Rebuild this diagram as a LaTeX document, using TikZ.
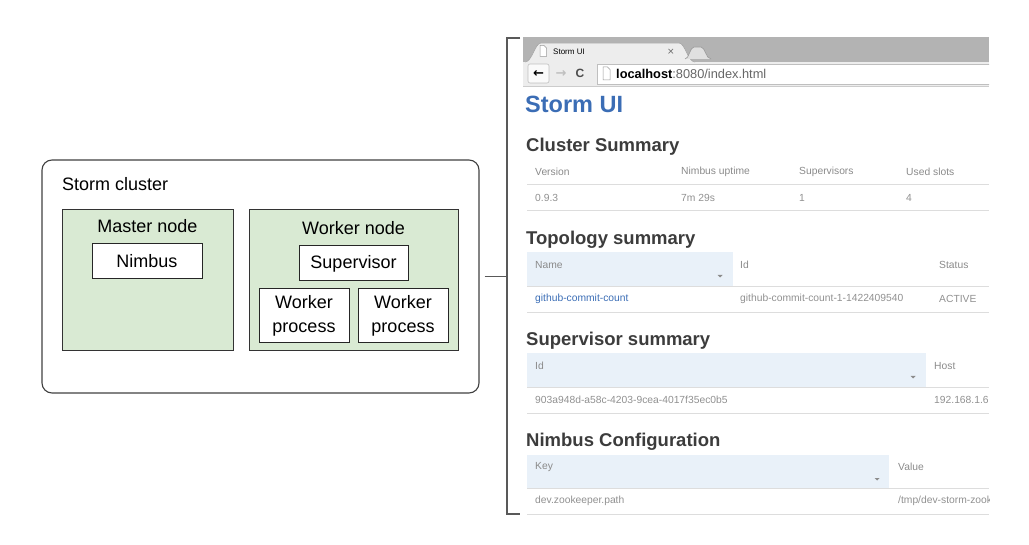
\documentclass[tikz,border=0pt]{standalone}
\usepackage{fontspec}
\setmainfont{Liberation Sans}
\newfontfamily\symfont{DejaVu Sans}

\definecolor{nodegreen}{HTML}{D9EAD3}
\definecolor{chromegray}{HTML}{B3B3B3}
\definecolor{barlight}{HTML}{EDEDED}
\definecolor{stormblue}{HTML}{3B6DB5}
\definecolor{titlegray}{HTML}{3C3C3C}
\definecolor{headgray}{HTML}{8A8A8A}
\definecolor{cellgray}{HTML}{909090}
\definecolor{headblue}{HTML}{E9F1F9}
\definecolor{linegray}{HTML}{DDDDDD}

\tikzset{
  diagtext/.style={inner sep=0pt, font=\fontsize{18}{23.5}\selectfont},
  clusterbox/.style={draw=black!75, line width=1.1pt, rounded corners=10pt, inner sep=0pt},
  greenbox/.style={draw=black!80, fill=nodegreen, line width=1pt, inner sep=0pt},
  whitebox/.style={draw=black!85, fill=white, line width=1pt, inner sep=0pt,
    align=center, font=\fontsize{18}{23.5}\selectfont},
  bracket/.style={draw=black!65, line width=1.1pt},
  heading/.style={anchor=west, inner sep=0pt, text=titlegray,
    font=\fontsize{18.5}{20}\selectfont\bfseries},
  thead/.style={anchor=west, inner sep=0pt, text=headgray, font=\fontsize{10.3}{12}\selectfont},
  tcell/.style={anchor=west, inner sep=0pt, text=cellgray, font=\fontsize{10.3}{12}\selectfont},
  rowline/.style={draw=linegray, line width=0.9pt}
}

\begin{document}
\begin{tikzpicture}[x=1pt, y=-1pt]
    \useasboundingbox (0,0) rectangle (1029,545);

    % Storm cluster
    \node[clusterbox, minimum width=437pt, minimum height=233pt] (cluster) at (260.5,276.5) {};
    \node[diagtext, anchor=west] (clusterlabel) at (62,184) {Storm cluster};

    % Master node
    \node[greenbox, minimum width=171pt, minimum height=141pt] (master) at (147.5,280.5) {};
    \node[diagtext] (masterlabel) at (147.5,226) {Master node};
    \node[whitebox, minimum width=110pt, minimum height=35pt] (nimbus) at (147,261.5) {Nimbus};

    % Worker node
    \node[greenbox, minimum width=209pt, minimum height=141pt] (worker) at (353.5,280.5) {};
    \node[diagtext] (workerlabel) at (353.5,228) {Worker node};
    \node[whitebox, minimum width=109pt, minimum height=35pt] (supervisor) at (353.5,263.5) {Supervisor};
    \node[whitebox, minimum width=90pt, minimum height=54pt] (process1) at (304,316) {Worker\\process};
    \node[whitebox, minimum width=90pt, minimum height=54pt] (process2) at (403,316) {Worker\\process};

    % Link to the UI screenshot
    \coordinate (uilink) at (507,276.5);
    \draw[bracket] ([xshift=5pt]cluster.east) -- (uilink);
    \draw[bracket] (520,38) -| (uilink) |- (520,514);

    % Storm UI screenshot
    \begin{scope}
        \clip (523,37) rectangle (989,516);
        % browser chrome
        \fill[chromegray] (523,37) rectangle (989,62);
        \fill[barlight] (523,62) rectangle (989,87);
        \draw[black!20, line width=0.8pt] (523,86.5) -- (989,86.5);
        \filldraw[fill=barlight, draw=black!35, line width=0.6pt]
            (525,62) .. controls (532,62) and (535,43) .. (541,43) -- (679,43)
            .. controls (685,43) and (688,62) .. (695,62);
        \filldraw[fill=black!12, draw=black!40, line width=0.6pt]
            (685,59) .. controls (689,59) and (690,47) .. (694,47) -- (701,47)
            .. controls (705,47) and (706,59) .. (711,59);
        \filldraw[fill=white, draw=black!40, line width=0.5pt]
            (540,45.5) -- (544,45.5) -- (546.5,48) -- (546.5,56.5) -- (540,56.5) -- cycle;
        \node[anchor=west, inner sep=0pt, font=\fontsize{8}{9}\selectfont] (tabtitle) at (553,51.5) {Storm UI};
        \node[inner sep=0pt, text=black!60, font=\symfont\fontsize{9}{10}\selectfont] (tabclose) at (671,52) {×};
        % toolbar
        \filldraw[fill=black!2, draw=black!25, line width=0.6pt, rounded corners=2pt] (528,64) rectangle (549,83);
        \node[inner sep=0pt, font=\symfont\fontsize{13}{14}\selectfont\bfseries] (backarrow) at (538.5,73.5) {←};
        \node[inner sep=0pt, text=black!25, font=\symfont\fontsize{13}{14}\selectfont\bfseries] (fwdarrow) at (561,73.5) {→};
        \node[inner sep=0pt, text=black!70, font=\fontsize{12}{13}\selectfont\bfseries] (reload) at (580,73.5) {C};
        \filldraw[fill=white, draw=black!25, line width=0.6pt] (597,64) rectangle (995,84);
        \filldraw[fill=white, draw=black!40, line width=0.5pt]
            (603,67) -- (607.5,67) -- (610,69.5) -- (610,80) -- (603,80) -- cycle;
        \node[anchor=west, inner sep=0pt, font=\fontsize{12.8}{14}\selectfont] (address) at (616,73.5)
            {\textbf{localhost}\textcolor{black!60}{:8080/index.html}};

        % page
        \node[anchor=west, inner sep=0pt, text=stormblue, font=\fontsize{23.5}{25}\selectfont\bfseries] (uititle) at (525,104.5) {Storm UI};

        % cluster summary
        \node[heading] (clusterhead) at (526,147) {Cluster Summary};
        \node[thead] at (535,172) {Version};
        \node[thead] at (681,172) {Nimbus uptime};
        \node[thead] at (799,172) {Supervisors};
        \node[thead] at (906,172) {Used slots};
        \draw[rowline] (527,184) -- (989,184);
        \node[tcell] at (535,198) {0.9.3};
        \node[tcell] at (681,198) {7m 29s};
        \node[tcell] at (799,198) {1};
        \node[tcell] at (906,198) {4};
        \draw[rowline] (527,210) -- (989,210);

        % topology summary
        \node[heading] (topologyhead) at (526,240) {Topology summary};
        \fill[headblue] (527,252) rectangle (733,286);
        \node[thead] at (535,265) {Name};
        \node[thead] at (740,265) {Id};
        \node[thead] at (939,265) {Status};
        \draw[rowline] (527,286) -- (989,286);
        \node[tcell, text=stormblue] at (535,299) {github-commit-count};
        \node[tcell] at (740,299) {github-commit-count-1-1422409540};
        \node[tcell] at (939,299) {ACTIVE};
        \draw[rowline] (527,312) -- (989,312);

        % supervisor summary
        \node[heading] (supervisorhead) at (526,341) {Supervisor summary};
        \fill[headblue] (527,353) rectangle (926,387);
        \node[thead] at (535,366) {Id};
        \node[thead] at (934,366) {Host};
        \draw[rowline] (527,387) -- (989,387);
        \node[tcell] at (535,400) {903a948d-a58c-4203-9cea-4017f35ec0b5};
        \node[tcell] at (934,400) {192.168.1.6};
        \draw[rowline] (527,413) -- (989,413);

        % nimbus configuration
        \node[heading] (nimbushead) at (526,442) {Nimbus Configuration};
        \fill[headblue] (527,455) rectangle (889,488);
        \node[thead] at (535,467) {Key};
        \node[thead] at (898,467) {Value};
        \draw[rowline] (527,488) -- (989,488);
        \node[tcell] at (535,501) {dev.zookeeper.path};
        \node[tcell] at (898,501) {/tmp/dev-storm-zook};
        \draw[rowline] (527,514) -- (989,514);

        % sort marks
        \foreach \x/\y in {720/276, 913/377, 877/479}
            \fill[black!45] ({\x-2.5},{\y-1}) -- ({\x+2.5},{\y-1}) -- (\x,{\y+1.5}) -- cycle;
    \end{scope}
\end{tikzpicture}
\end{document}
